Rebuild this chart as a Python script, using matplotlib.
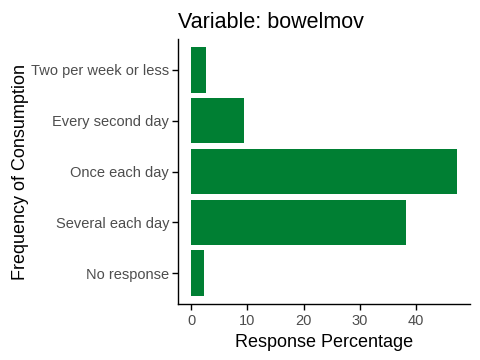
import matplotlib
matplotlib.use("Agg")
import matplotlib.pyplot as plt

categories = ["No response", "Several each day", "Once each day", "Every second day", "Two per week or less"]
values = [2.3, 38.2, 47.3, 9.3, 2.7]

plt.rcParams['font.family'] = ['Liberation Sans', 'DejaVu Sans']

fig = plt.figure(figsize=(4.8, 3.6), dpi=100)
ax = fig.add_axes([0.371, 0.1556, 0.608, 0.736])
ypos = list(range(1, len(categories) + 1))
ax.barh(ypos, values, height=0.9, color="#007F33")
ax.set_yticks(ypos)
ax.set_yticklabels(categories)
ax.set_ylim(0.4, len(categories) + 0.6)
xmax = max(values)
ax.set_xlim(-0.05 * xmax, xmax * 1.05)
ax.set_xticks([0, 10, 20, 30, 40])
for s in ["top", "right"]:
    ax.spines[s].set_visible(False)
for s in ["left", "bottom"]:
    ax.spines[s].set_linewidth(1.0)
    ax.spines[s].set_color("black")
ax.tick_params(axis="both", length=4, width=1, colors="black", labelcolor="#4D4D4D", labelsize=10.5)
ax.tick_params(axis="y", pad=2.5)
ax.set_xlabel("Response Percentage", fontsize=13, color="black")
ax.set_ylabel("Frequency of Consumption", fontsize=13, color="black", labelpad=1.5)
ax.set_title("Variable: bowelmov", loc="left", fontsize=15.5, color="black", pad=8)
fig.savefig("out.png", dpi=100)
